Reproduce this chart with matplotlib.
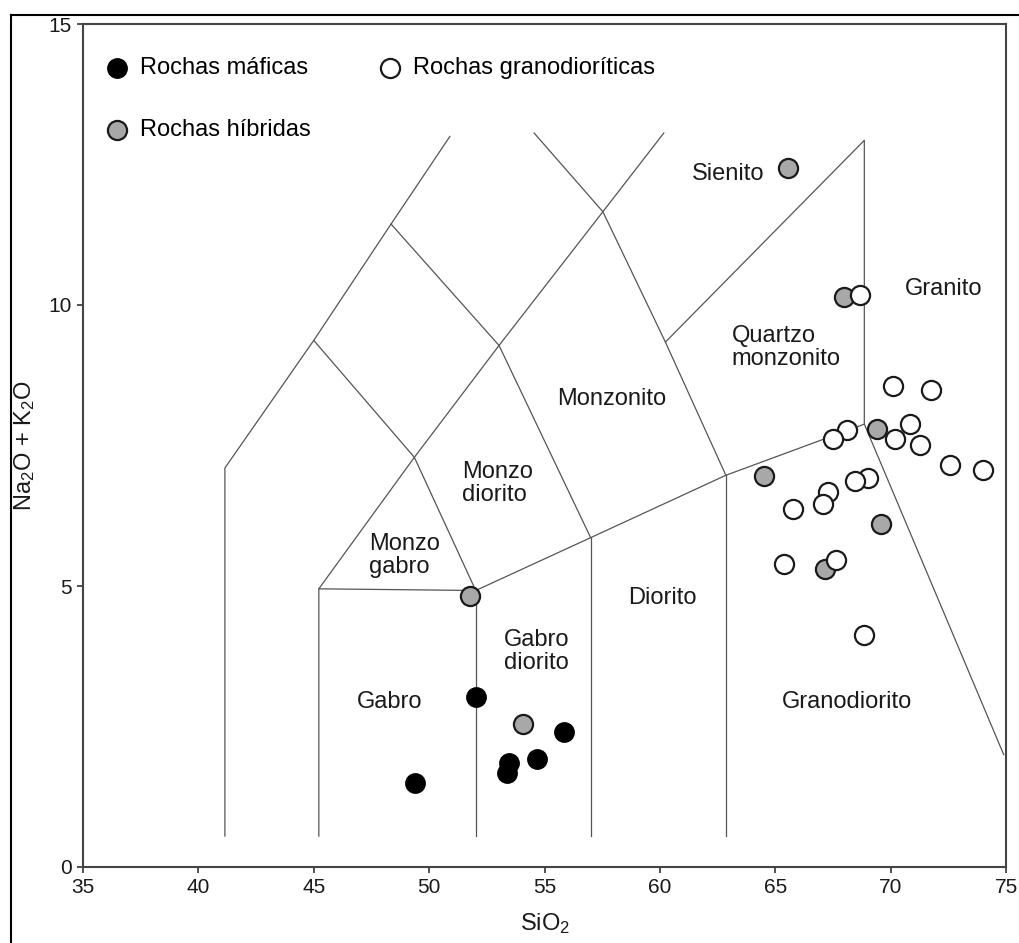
import matplotlib
matplotlib.use("Agg")
import matplotlib.pyplot as plt
from matplotlib.lines import Line2D

plt.rcParams['font.family'] = ['Liberation Sans', 'DejaVu Sans']
plt.rcParams['mathtext.default'] = 'regular'

# field boundaries of the classification diagram (SiO2, Na2O+K2O)
boundaries = [
    [(41.15, 0.55), (41.15, 7.1), (45.0, 9.37), (48.35, 11.44), (50.9, 13.0)],
    [(45.0, 9.37), (49.36, 7.29), (52.02, 4.92)],
    [(48.35, 11.44), (53.03, 9.28), (57.0, 5.86)],
    [(45.22, 4.95), (49.36, 7.29), (53.03, 9.28), (57.53, 11.66), (60.17, 13.06)],
    [(54.55, 13.06), (57.53, 11.66), (60.24, 9.34), (62.86, 6.97)],
    [(60.24, 9.34), (68.86, 12.93), (68.86, 7.88)],
    [(45.22, 0.55), (45.22, 4.95), (52.02, 4.92), (57.0, 5.86), (62.86, 6.97), (68.86, 7.88), (74.9, 2.0)],
    [(52.02, 0.55), (52.02, 4.92)],
    [(57.0, 0.55), (57.0, 5.86)],
    [(62.86, 0.55), (62.86, 6.97)],
]

field_names = ["Sienito", "Granito", "Quartzo\nmonzonito", "Monzonito", "Monzo\ndiorito",
               "Monzo\ngabro", "Gabro\ndiorito", "Gabro", "Diorito", "Granodiorito"]
field_x = [62.98, 72.28, 63.1, 57.93, 51.42, 47.41, 53.25, 48.28, 60.09, 68.12]
field_y = [12.33, 10.29, 9.24, 8.33, 6.82, 5.54, 3.83, 2.94, 4.79, 2.93]
field_ha = ["center", "center", "left", "center", "left", "left", "left", "center", "center", "center"]

# samples
mafic_si = [52.02, 55.84, 54.69, 53.44, 53.39, 49.38]
mafic_alk = [3.03, 2.40, 1.93, 1.85, 1.68, 1.50]

hybrid_si = [51.78, 54.07, 65.57, 67.99, 64.52, 69.39, 69.57, 67.16]
hybrid_alk = [4.83, 2.55, 12.43, 10.15, 6.95, 7.80, 6.10, 5.31]

grano_si = [68.67, 70.11, 71.74, 68.10, 67.49, 70.83, 70.18, 71.26, 72.56, 74.0,
            69.03, 68.46, 67.27, 67.09, 65.79, 67.63, 65.38, 68.84]
grano_alk = [10.18, 8.55, 8.48, 7.78, 7.61, 7.88, 7.62, 7.51, 7.16, 7.07,
             6.93, 6.86, 6.68, 6.46, 6.37, 5.47, 5.40, 4.12]

fig = plt.figure(figsize=(10.19, 9.43), dpi=100)
ax = fig.add_axes([83 / 1019, 76 / 943, 923 / 1019, 843 / 943])

for line in boundaries:
    xs = [p[0] for p in line]
    ys = [p[1] for p in line]
    ax.plot(xs, ys, color='#555555', lw=0.9, zorder=1)

for name, x, y, ha in zip(field_names, field_x, field_y, field_ha):
    ax.text(x, y, name, ha=ha, va='center', fontsize=17, color='#1a1a1a',
            linespacing=1.05, multialignment='left', zorder=2)

ax.scatter(mafic_si, mafic_alk, s=190, c='black', edgecolors='black', linewidths=1.2, zorder=3)
ax.scatter(hybrid_si, hybrid_alk, s=190, c='#a8a8a8', edgecolors='#1a1a1a', linewidths=1.6, zorder=3)
ax.scatter(grano_si, grano_alk, s=190, c='white', edgecolors='#1a1a1a', linewidths=1.6, zorder=4)

# legend drawn by hand
ax.scatter([0.0368], [0.948], s=190, c='black', edgecolors='black', linewidths=1.2,
           transform=ax.transAxes, clip_on=False)
ax.text(0.0618, 0.948, "Rochas máficas", transform=ax.transAxes, fontsize=17, va='center')
ax.scatter([0.3326], [0.948], s=190, c='white', edgecolors='#1a1a1a', linewidths=1.6,
           transform=ax.transAxes, clip_on=False)
ax.text(0.3575, 0.948, "Rochas granodioríticas", transform=ax.transAxes, fontsize=17, va='center')
ax.scatter([0.0368], [0.874], s=190, c='#a8a8a8', edgecolors='#1a1a1a', linewidths=1.6,
           transform=ax.transAxes, clip_on=False)
ax.text(0.0618, 0.874, "Rochas híbridas", transform=ax.transAxes, fontsize=17, va='center')

ax.set_xlim(35, 75)
ax.set_ylim(0, 15)
ax.set_xticks(range(35, 76, 5))
ax.set_yticks([0, 5, 10, 15])
ax.tick_params(direction='out', length=4, width=1.2, labelsize=15, colors='#333333',
               labelcolor='#1a1a1a', pad=4)
for sp in ax.spines.values():
    sp.set_linewidth(1.5)
    sp.set_color('#444444')

ax.set_xlabel("SiO$_2$", fontsize=17, labelpad=10, color='#1a1a1a')
ax.set_ylabel("Na$_2$O + K$_2$O", fontsize=17, labelpad=8, color='#1a1a1a')

# outer frame lines at the top and left of the picture
fig.add_artist(Line2D([11 / 1019, 1], [1 - 15 / 943, 1 - 15 / 943], color='black', lw=1.5))
fig.add_artist(Line2D([11 / 1019, 11 / 1019], [0, 1 - 15 / 943], color='black', lw=1.5))

fig.savefig("out.png", dpi=100)
